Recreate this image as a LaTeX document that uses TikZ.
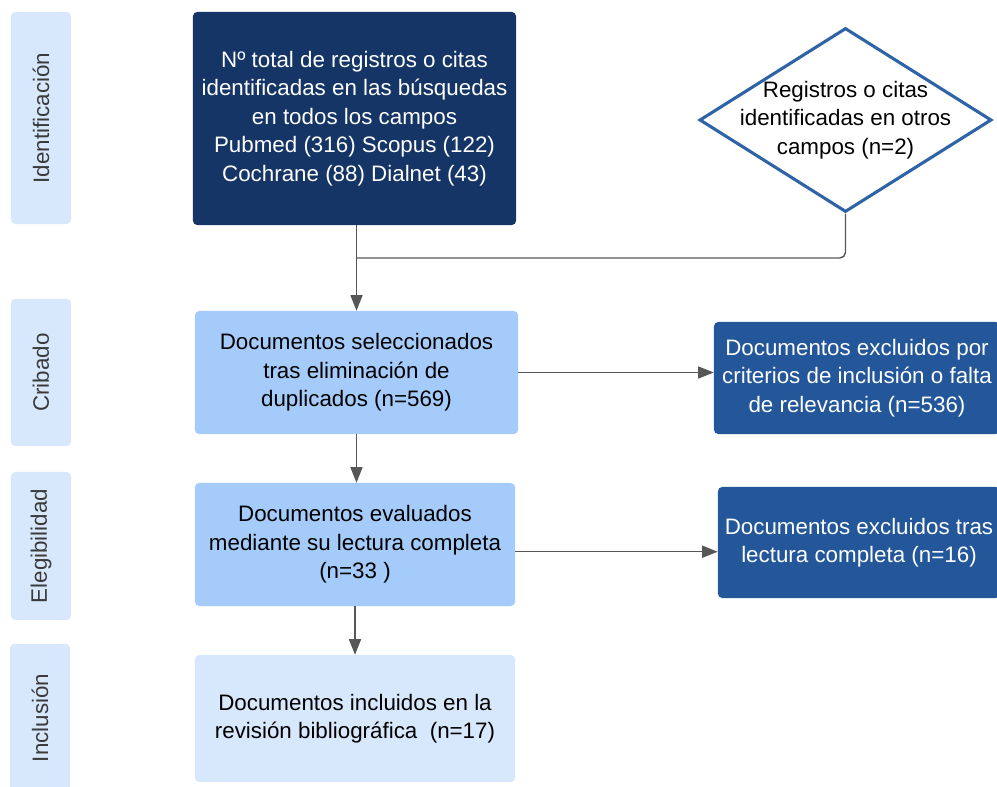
\documentclass[tikz,border=0pt]{standalone}
\usepackage{fontspec}
\setmainfont{Liberation Sans}
\usetikzlibrary{shapes.geometric,arrows.meta}
\definecolor{navy}{HTML}{143566}
\definecolor{darkblue}{HTML}{23579A}
\definecolor{midblue}{HTML}{A4CBFA}
\definecolor{paleblue}{HTML}{D7E8FC}
\definecolor{lineblue}{HTML}{2E64A6}
\definecolor{arrowgray}{HTML}{575757}
\definecolor{tabtext}{HTML}{3A3A3A}
\begin{document}
\begin{tikzpicture}[x=0.025cm, y=-0.025cm,
		txt/.style={font=\fontsize{15.9}{20.3}\selectfont, align=center},
		tab/.style={txt, fill=paleblue, rounded corners=3pt, rotate=90, text=tabtext, minimum height=1.5cm, inner sep=0pt},
		box/.style={txt, rounded corners=3pt, inner sep=0pt},
		flow/.style={draw=arrowgray, line width=1pt, -{Triangle[length=11pt, width=8.5pt]}}]
		\useasboundingbox (0,0) rectangle (997,787);
		\clip (0,0) rectangle (997,787);
		\node [tab, minimum width=5.3cm] (tabId) at (41,118) {Identificación};
		\node [tab, minimum width=3.675cm] (tabCrib) at (41,372.5) {Cribado};
		\node [tab, minimum width=3.7cm] (tabEleg) at (41,546) {Elegibilidad};
		\node [tab, minimum width=3.7cm] (tabIncl) at (40,718) {Inclusión};
		\node [box, fill=navy, text=white, minimum width=8.075cm, minimum height=5.325cm] (total) at (354.5,118.5) {Nº total de registros o citas\\identificadas en las búsquedas\\en todos los campos\\Pubmed (316) Scopus (122)\\Cochrane (88) Dialnet (43)};
		\node [diamond, draw=lineblue, line width=2.2pt, fill=white, minimum width=7.3cm, minimum height=4.6cm, inner sep=0pt] (otros) at (845.5,120) {};
		\node [txt] (otrosTxt) at (otros.center) {Registros o citas\\identificadas en otros\\campos (n=2)};
		\node [box, fill=midblue, minimum width=8.075cm, minimum height=3.075cm] (selec) at (356.5,372.5) {Documentos seleccionados\\tras eliminación de\\duplicados (n=569)};
		\node [box, fill=darkblue, text=white, minimum width=7.15cm, minimum height=2.8cm] (excl1) at (857,378) {Documentos excluidos por\\criterios de inclusión o falta\\de relevancia (n=536)};
		\node [box, fill=midblue, minimum width=8cm, minimum height=3.075cm] (evalu) at (355,544.5) {Documentos evaluados\\mediante su lectura completa\\(n=33 )};
		\node [box, fill=darkblue, text=white, minimum width=7.05cm, minimum height=2.775cm] (excl2) at (859,542.5) {Documentos excluidos tras\\lectura completa (n=16)};
		\node [box, fill=paleblue, minimum width=8cm, minimum height=3.175cm] (incl) at (355,718.5) {Documentos incluidos en la\\revisión bibliográfica~ (n=17)};
		\coordinate (junc) at (356.5,258);
		\draw[flow] (selec.north |- total.south) -- (selec.north);
		\draw[draw=arrowgray, line width=1pt, rounded corners=4pt] (otros.south) |- (junc);
		\draw[flow] (selec.east) -- (selec.east -| excl1.west);
		\draw[flow] (selec.south) -- (selec.south |- evalu.north);
		\draw[flow] ([yshift=-0.18cm]evalu.east) -- ([yshift=-0.18cm]evalu.east -| excl2.west);
		\draw[flow] (evalu.south) -- (incl.north);
	\end{tikzpicture}
\end{document}
